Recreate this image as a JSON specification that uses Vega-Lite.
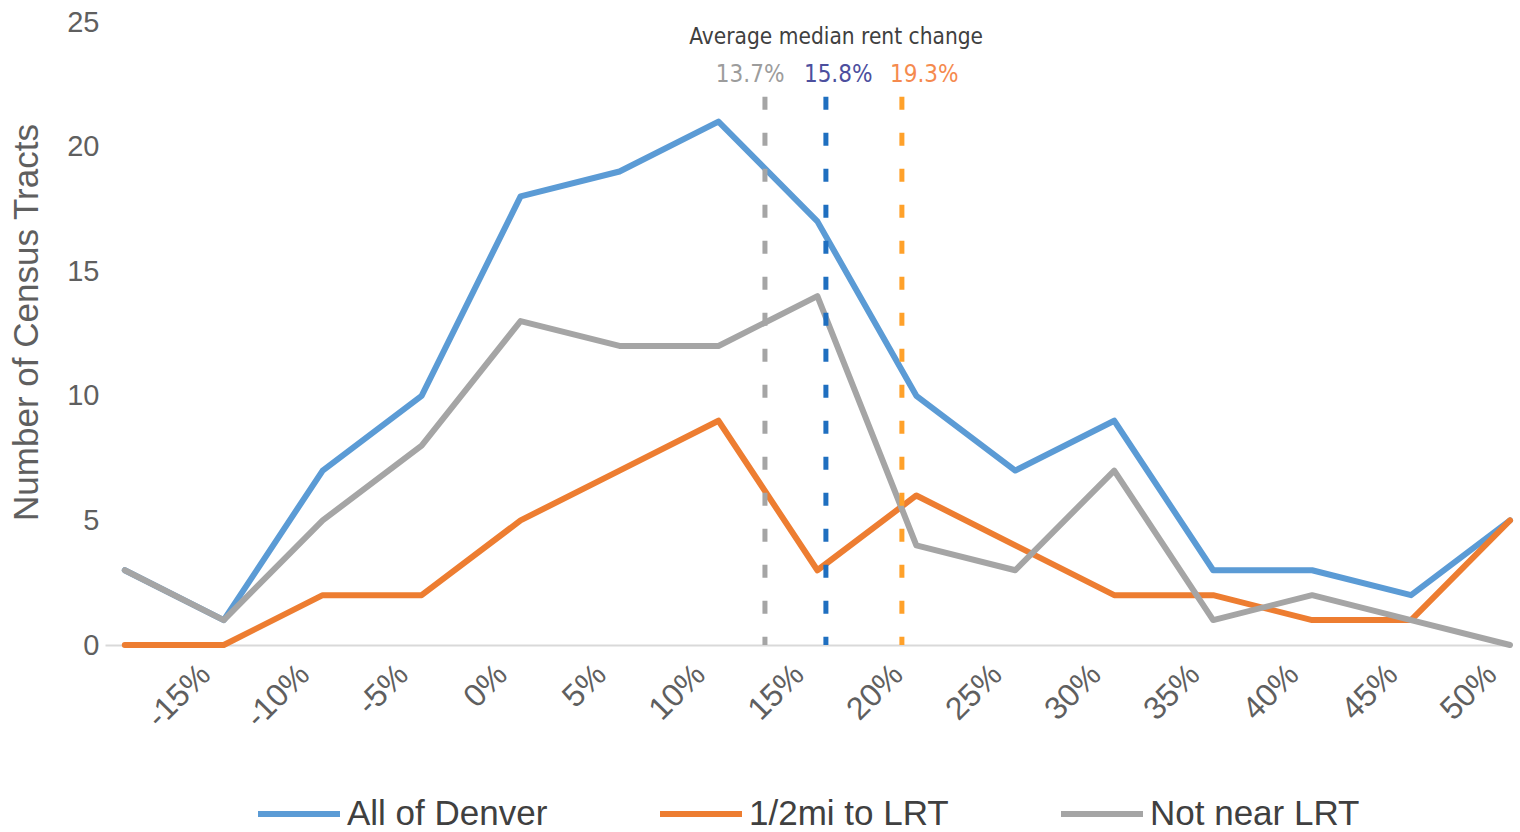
{
  "$schema": "https://vega.github.io/schema/vega-lite/v6.json",
  "width": 1405,
  "height": 623,
  "autosize": "none",
  "padding": {"left": 105, "top": 22, "right": 10, "bottom": 187},
  "background": "white",
  "config": {
    "view": {"stroke": null},
    "font": "Liberation Sans",
    "axis": {"labelFont": "Liberation Sans", "titleFont": "Liberation Sans", "labelColor": "#5f5f5f", "titleColor": "#5f5f5f", "titleFontWeight": "normal"},
    "legend": {"labelFont": "Liberation Sans"}
  },
  "datasets": {
    "series": [
      {"bin": -20, "series": "All of Denver", "count": 3},
      {"bin": -15, "series": "All of Denver", "count": 1},
      {"bin": -10, "series": "All of Denver", "count": 7},
      {"bin": -5, "series": "All of Denver", "count": 10},
      {"bin": 0, "series": "All of Denver", "count": 18},
      {"bin": 5, "series": "All of Denver", "count": 19},
      {"bin": 10, "series": "All of Denver", "count": 21},
      {"bin": 15, "series": "All of Denver", "count": 17},
      {"bin": 20, "series": "All of Denver", "count": 10},
      {"bin": 25, "series": "All of Denver", "count": 7},
      {"bin": 30, "series": "All of Denver", "count": 9},
      {"bin": 35, "series": "All of Denver", "count": 3},
      {"bin": 40, "series": "All of Denver", "count": 3},
      {"bin": 45, "series": "All of Denver", "count": 2},
      {"bin": 50, "series": "All of Denver", "count": 5},
      {"bin": -20, "series": "1/2mi to LRT", "count": 0},
      {"bin": -15, "series": "1/2mi to LRT", "count": 0},
      {"bin": -10, "series": "1/2mi to LRT", "count": 2},
      {"bin": -5, "series": "1/2mi to LRT", "count": 2},
      {"bin": 0, "series": "1/2mi to LRT", "count": 5},
      {"bin": 5, "series": "1/2mi to LRT", "count": 7},
      {"bin": 10, "series": "1/2mi to LRT", "count": 9},
      {"bin": 15, "series": "1/2mi to LRT", "count": 3},
      {"bin": 20, "series": "1/2mi to LRT", "count": 6},
      {"bin": 25, "series": "1/2mi to LRT", "count": 4},
      {"bin": 30, "series": "1/2mi to LRT", "count": 2},
      {"bin": 35, "series": "1/2mi to LRT", "count": 2},
      {"bin": 40, "series": "1/2mi to LRT", "count": 1},
      {"bin": 45, "series": "1/2mi to LRT", "count": 1},
      {"bin": 50, "series": "1/2mi to LRT", "count": 5},
      {"bin": -20, "series": "Not near LRT", "count": 3},
      {"bin": -15, "series": "Not near LRT", "count": 1},
      {"bin": -10, "series": "Not near LRT", "count": 5},
      {"bin": -5, "series": "Not near LRT", "count": 8},
      {"bin": 0, "series": "Not near LRT", "count": 13},
      {"bin": 5, "series": "Not near LRT", "count": 12},
      {"bin": 10, "series": "Not near LRT", "count": 12},
      {"bin": 15, "series": "Not near LRT", "count": 14},
      {"bin": 20, "series": "Not near LRT", "count": 4},
      {"bin": 25, "series": "Not near LRT", "count": 3},
      {"bin": 30, "series": "Not near LRT", "count": 7},
      {"bin": 35, "series": "Not near LRT", "count": 1},
      {"bin": 40, "series": "Not near LRT", "count": 2},
      {"bin": 45, "series": "Not near LRT", "count": 1},
      {"bin": 50, "series": "Not near LRT", "count": 0}
    ],
    "averages": [
      {"series": "Not near LRT", "pos": 12.35, "top": 22.0, "label": "13.7%", "lx": 11.6, "ly": 22.87},
      {"series": "All of Denver", "pos": 15.43, "top": 22.0, "label": "15.8%", "lx": 16.05, "ly": 22.87},
      {"series": "1/2mi to LRT", "pos": 19.27, "top": 22.0, "label": "19.3%", "lx": 20.4, "ly": 22.87}
    ],
    "heading": [
      {"text": "Average median rent change", "x": 15.95, "y": 24.4}
    ]
  },
  "layer": [
    {
      "data": {"name": "series"},
      "mark": {"type": "line", "strokeWidth": 6, "strokeJoin": "round", "strokeCap": "round"},
      "encoding": {
        "x": {
          "field": "bin", "type": "quantitative",
          "scale": {"domain": [-21, 50], "nice": false, "zero": false},
          "axis": {
            "values": [-15, -10, -5, 0, 5, 10, 15, 20, 25, 30, 35, 40, 45, 50],
            "labelExpr": "datum.value + '%'",
            "labelAngle": -45,
            "labelAlign": "right",
            "labelBaseline": "middle",
            "labelFontSize": 32,
            "labelPadding": 24,
            "labelOffset": -19,
            "labelFlush": false,
            "labelOverlap": false,
            "grid": false, "ticks": false,
            "domainColor": "#d9d9d9", "domainWidth": 2,
            "title": null
          }
        },
        "y": {
          "field": "count", "type": "quantitative",
          "scale": {"domain": [0, 25], "nice": false},
          "axis": {
            "values": [0, 5, 10, 15, 20, 25],
            "labelFontSize": 29,
            "labelPadding": 6,
            "grid": false, "ticks": false, "domain": false,
            "title": "Number of Census Tracts",
            "titleFontSize": 35,
            "titlePadding": 22,
            "titleY": 300
          }
        },
        "color": {
          "field": "series", "type": "nominal",
          "scale": {"domain": ["All of Denver", "1/2mi to LRT", "Not near LRT"], "range": ["#5B9BD5", "#ED7D31", "#A5A5A5"]},
          "legend": {
            "orient": "none", "legendX": 150, "legendY": 748,
            "direction": "horizontal", "title": null,
            "symbolType": "stroke", "symbolSize": 6724, "symbolStrokeWidth": 6,
            "labelFontSize": 35, "labelColor": "#404040", "labelOffset": 4,
            "labelLimit": 500,
            "columnPadding": 100
          }
        }
      }
    },
    {
      "data": {"name": "averages"},
      "mark": {"type": "rule", "strokeWidth": 5, "strokeDash": [13, 23]},
      "encoding": {
        "x": {"field": "pos", "type": "quantitative"},
        "y": {"field": "top", "type": "quantitative"},
        "y2": {"datum": 0},
        "color": {
          "field": "series", "type": "nominal",
          "scale": {"domain": ["Not near LRT", "All of Denver", "1/2mi to LRT"], "range": ["#A5A5A5", "#1F6FC0", "#FFA12A"]},
          "legend": null
        }
      }
    },
    {
      "data": {"name": "averages"},
      "mark": {"type": "text", "fontSize": 24, "font": "DejaVu Sans Condensed, Liberation Sans", "baseline": "middle", "align": "center"},
      "encoding": {
        "x": {"field": "lx", "type": "quantitative"},
        "y": {"field": "ly", "type": "quantitative"},
        "text": {"field": "label"},
        "color": {
          "field": "series", "type": "nominal",
          "scale": {"domain": ["Not near LRT", "All of Denver", "1/2mi to LRT"], "range": ["#9c9c9c", "#4c4f9e", "#F58A4E"]},
          "legend": null
        }
      }
    },
    {
      "data": {"name": "heading"},
      "mark": {"type": "text", "fontSize": 22.5, "font": "DejaVu Sans Condensed, Liberation Sans", "baseline": "middle", "align": "center", "color": "#404040"},
      "encoding": {
        "x": {"field": "x", "type": "quantitative"},
        "y": {"field": "y", "type": "quantitative"},
        "text": {"field": "text"}
      }
    }
  ],
  "resolve": {"scale": {"color": "independent"}}
}
